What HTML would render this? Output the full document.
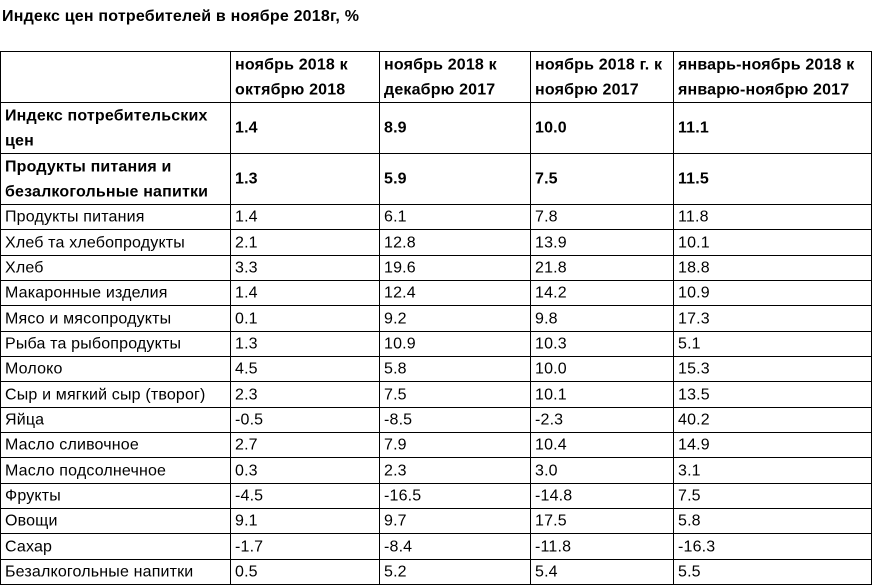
<!DOCTYPE html>
<html>
<head>
<meta charset="utf-8">
<style>
  html,body{margin:0;padding:0;background:#fff;}
  body{width:873px;height:586px;position:relative;overflow:hidden;
       font-family:"Liberation Sans",Arial,sans-serif;color:#000;font-size:16px;letter-spacing:0.17px;}
  .title{position:absolute;left:2px;top:8px;font-weight:bold;font-size:16px;line-height:18px;white-space:nowrap;letter-spacing:0.2px;}
  .h{position:absolute;left:0;width:872px;height:1px;background:#000;}
  .v{position:absolute;top:51px;height:534px;width:1px;background:#000;}
  .c{position:absolute;display:flex;align-items:center;white-space:nowrap;transform:translateY(0.5px);}
  .c span{display:block;line-height:25px;}
  .b{font-weight:bold;}
</style>
</head>
<body>
<div class="title">Индекс цен потребителей в ноябре 2018г, %</div>

<div class="h" style="top:51px"></div>
<div class="h" style="top:102px"></div>
<div class="h" style="top:153px"></div>
<div class="h" style="top:204px"></div>
<div class="h" style="top:229px"></div>
<div class="h" style="top:255px"></div>
<div class="h" style="top:280px"></div>
<div class="h" style="top:305px"></div>
<div class="h" style="top:331px"></div>
<div class="h" style="top:356px"></div>
<div class="h" style="top:381px"></div>
<div class="h" style="top:407px"></div>
<div class="h" style="top:432px"></div>
<div class="h" style="top:457px"></div>
<div class="h" style="top:483px"></div>
<div class="h" style="top:508px"></div>
<div class="h" style="top:533px"></div>
<div class="h" style="top:559px"></div>
<div class="h" style="top:584px"></div>

<div class="v" style="left:0px"></div>
<div class="v" style="left:230px"></div>
<div class="v" style="left:379px"></div>
<div class="v" style="left:530px"></div>
<div class="v" style="left:673px"></div>
<div class="v" style="left:871px"></div>

<div class="c b" style="left:235px;top:51px;height:51px"><span>ноябрь 2018 к<br>октябрю 2018</span></div>
<div class="c b" style="left:384px;top:51px;height:51px"><span>ноябрь 2018 к<br>декабрю 2017</span></div>
<div class="c b" style="left:535px;top:51px;height:51px"><span>ноябрь 2018 г. к<br>ноябрю 2017</span></div>
<div class="c b" style="left:678px;top:51px;height:51px"><span>январь-ноябрь 2018 к<br>январю-ноябрю 2017</span></div>

<div class="c b" style="left:5px;top:102px;height:51px"><span>Индекс потребительских<br>цен</span></div>
<div class="c b" style="left:235px;top:102px;height:51px"><span>1.4</span></div>
<div class="c b" style="left:384px;top:102px;height:51px"><span>8.9</span></div>
<div class="c b" style="left:535px;top:102px;height:51px"><span>10.0</span></div>
<div class="c b" style="left:678px;top:102px;height:51px"><span>11.1</span></div>

<div class="c b" style="left:5px;top:153px;height:51px"><span>Продукты питания и<br>безалкогольные напитки</span></div>
<div class="c b" style="left:235px;top:153px;height:51px"><span>1.3</span></div>
<div class="c b" style="left:384px;top:153px;height:51px"><span>5.9</span></div>
<div class="c b" style="left:535px;top:153px;height:51px"><span>7.5</span></div>
<div class="c b" style="left:678px;top:153px;height:51px"><span>11.5</span></div>

<div class="c" style="left:5px;top:204px;height:25px"><span>Продукты питания</span></div>
<div class="c" style="left:235px;top:204px;height:25px"><span>1.4</span></div>
<div class="c" style="left:384px;top:204px;height:25px"><span>6.1</span></div>
<div class="c" style="left:535px;top:204px;height:25px"><span>7.8</span></div>
<div class="c" style="left:678px;top:204px;height:25px"><span>11.8</span></div>

<div class="c" style="left:5px;top:229px;height:26px"><span>Хлеб та хлебопродукты</span></div>
<div class="c" style="left:235px;top:229px;height:26px"><span>2.1</span></div>
<div class="c" style="left:384px;top:229px;height:26px"><span>12.8</span></div>
<div class="c" style="left:535px;top:229px;height:26px"><span>13.9</span></div>
<div class="c" style="left:678px;top:229px;height:26px"><span>10.1</span></div>

<div class="c" style="left:5px;top:255px;height:25px"><span>Хлеб</span></div>
<div class="c" style="left:235px;top:255px;height:25px"><span>3.3</span></div>
<div class="c" style="left:384px;top:255px;height:25px"><span>19.6</span></div>
<div class="c" style="left:535px;top:255px;height:25px"><span>21.8</span></div>
<div class="c" style="left:678px;top:255px;height:25px"><span>18.8</span></div>

<div class="c" style="left:5px;top:280px;height:25px"><span>Макаронные изделия</span></div>
<div class="c" style="left:235px;top:280px;height:25px"><span>1.4</span></div>
<div class="c" style="left:384px;top:280px;height:25px"><span>12.4</span></div>
<div class="c" style="left:535px;top:280px;height:25px"><span>14.2</span></div>
<div class="c" style="left:678px;top:280px;height:25px"><span>10.9</span></div>

<div class="c" style="left:5px;top:305px;height:26px"><span>Мясо и мясопродукты</span></div>
<div class="c" style="left:235px;top:305px;height:26px"><span>0.1</span></div>
<div class="c" style="left:384px;top:305px;height:26px"><span>9.2</span></div>
<div class="c" style="left:535px;top:305px;height:26px"><span>9.8</span></div>
<div class="c" style="left:678px;top:305px;height:26px"><span>17.3</span></div>

<div class="c" style="left:5px;top:331px;height:25px"><span>Рыба та рыбопродукты</span></div>
<div class="c" style="left:235px;top:331px;height:25px"><span>1.3</span></div>
<div class="c" style="left:384px;top:331px;height:25px"><span>10.9</span></div>
<div class="c" style="left:535px;top:331px;height:25px"><span>10.3</span></div>
<div class="c" style="left:678px;top:331px;height:25px"><span>5.1</span></div>

<div class="c" style="left:5px;top:356px;height:25px"><span>Молоко</span></div>
<div class="c" style="left:235px;top:356px;height:25px"><span>4.5</span></div>
<div class="c" style="left:384px;top:356px;height:25px"><span>5.8</span></div>
<div class="c" style="left:535px;top:356px;height:25px"><span>10.0</span></div>
<div class="c" style="left:678px;top:356px;height:25px"><span>15.3</span></div>

<div class="c" style="left:5px;top:381px;height:26px"><span>Сыр и мягкий сыр (творог)</span></div>
<div class="c" style="left:235px;top:381px;height:26px"><span>2.3</span></div>
<div class="c" style="left:384px;top:381px;height:26px"><span>7.5</span></div>
<div class="c" style="left:535px;top:381px;height:26px"><span>10.1</span></div>
<div class="c" style="left:678px;top:381px;height:26px"><span>13.5</span></div>

<div class="c" style="left:5px;top:407px;height:25px"><span>Яйца</span></div>
<div class="c" style="left:235px;top:407px;height:25px"><span>-0.5</span></div>
<div class="c" style="left:384px;top:407px;height:25px"><span>-8.5</span></div>
<div class="c" style="left:535px;top:407px;height:25px"><span>-2.3</span></div>
<div class="c" style="left:678px;top:407px;height:25px"><span>40.2</span></div>

<div class="c" style="left:5px;top:432px;height:25px"><span>Масло сливочное</span></div>
<div class="c" style="left:235px;top:432px;height:25px"><span>2.7</span></div>
<div class="c" style="left:384px;top:432px;height:25px"><span>7.9</span></div>
<div class="c" style="left:535px;top:432px;height:25px"><span>10.4</span></div>
<div class="c" style="left:678px;top:432px;height:25px"><span>14.9</span></div>

<div class="c" style="left:5px;top:457px;height:26px"><span>Масло подсолнечное</span></div>
<div class="c" style="left:235px;top:457px;height:26px"><span>0.3</span></div>
<div class="c" style="left:384px;top:457px;height:26px"><span>2.3</span></div>
<div class="c" style="left:535px;top:457px;height:26px"><span>3.0</span></div>
<div class="c" style="left:678px;top:457px;height:26px"><span>3.1</span></div>

<div class="c" style="left:5px;top:483px;height:25px"><span>Фрукты</span></div>
<div class="c" style="left:235px;top:483px;height:25px"><span>-4.5</span></div>
<div class="c" style="left:384px;top:483px;height:25px"><span>-16.5</span></div>
<div class="c" style="left:535px;top:483px;height:25px"><span>-14.8</span></div>
<div class="c" style="left:678px;top:483px;height:25px"><span>7.5</span></div>

<div class="c" style="left:5px;top:508px;height:25px"><span>Овощи</span></div>
<div class="c" style="left:235px;top:508px;height:25px"><span>9.1</span></div>
<div class="c" style="left:384px;top:508px;height:25px"><span>9.7</span></div>
<div class="c" style="left:535px;top:508px;height:25px"><span>17.5</span></div>
<div class="c" style="left:678px;top:508px;height:25px"><span>5.8</span></div>

<div class="c" style="left:5px;top:533px;height:26px"><span>Сахар</span></div>
<div class="c" style="left:235px;top:533px;height:26px"><span>-1.7</span></div>
<div class="c" style="left:384px;top:533px;height:26px"><span>-8.4</span></div>
<div class="c" style="left:535px;top:533px;height:26px"><span>-11.8</span></div>
<div class="c" style="left:678px;top:533px;height:26px"><span>-16.3</span></div>

<div class="c" style="left:5px;top:559px;height:25px"><span>Безалкогольные напитки</span></div>
<div class="c" style="left:235px;top:559px;height:25px"><span>0.5</span></div>
<div class="c" style="left:384px;top:559px;height:25px"><span>5.2</span></div>
<div class="c" style="left:535px;top:559px;height:25px"><span>5.4</span></div>
<div class="c" style="left:678px;top:559px;height:25px"><span>5.5</span></div>
</body>
</html>
